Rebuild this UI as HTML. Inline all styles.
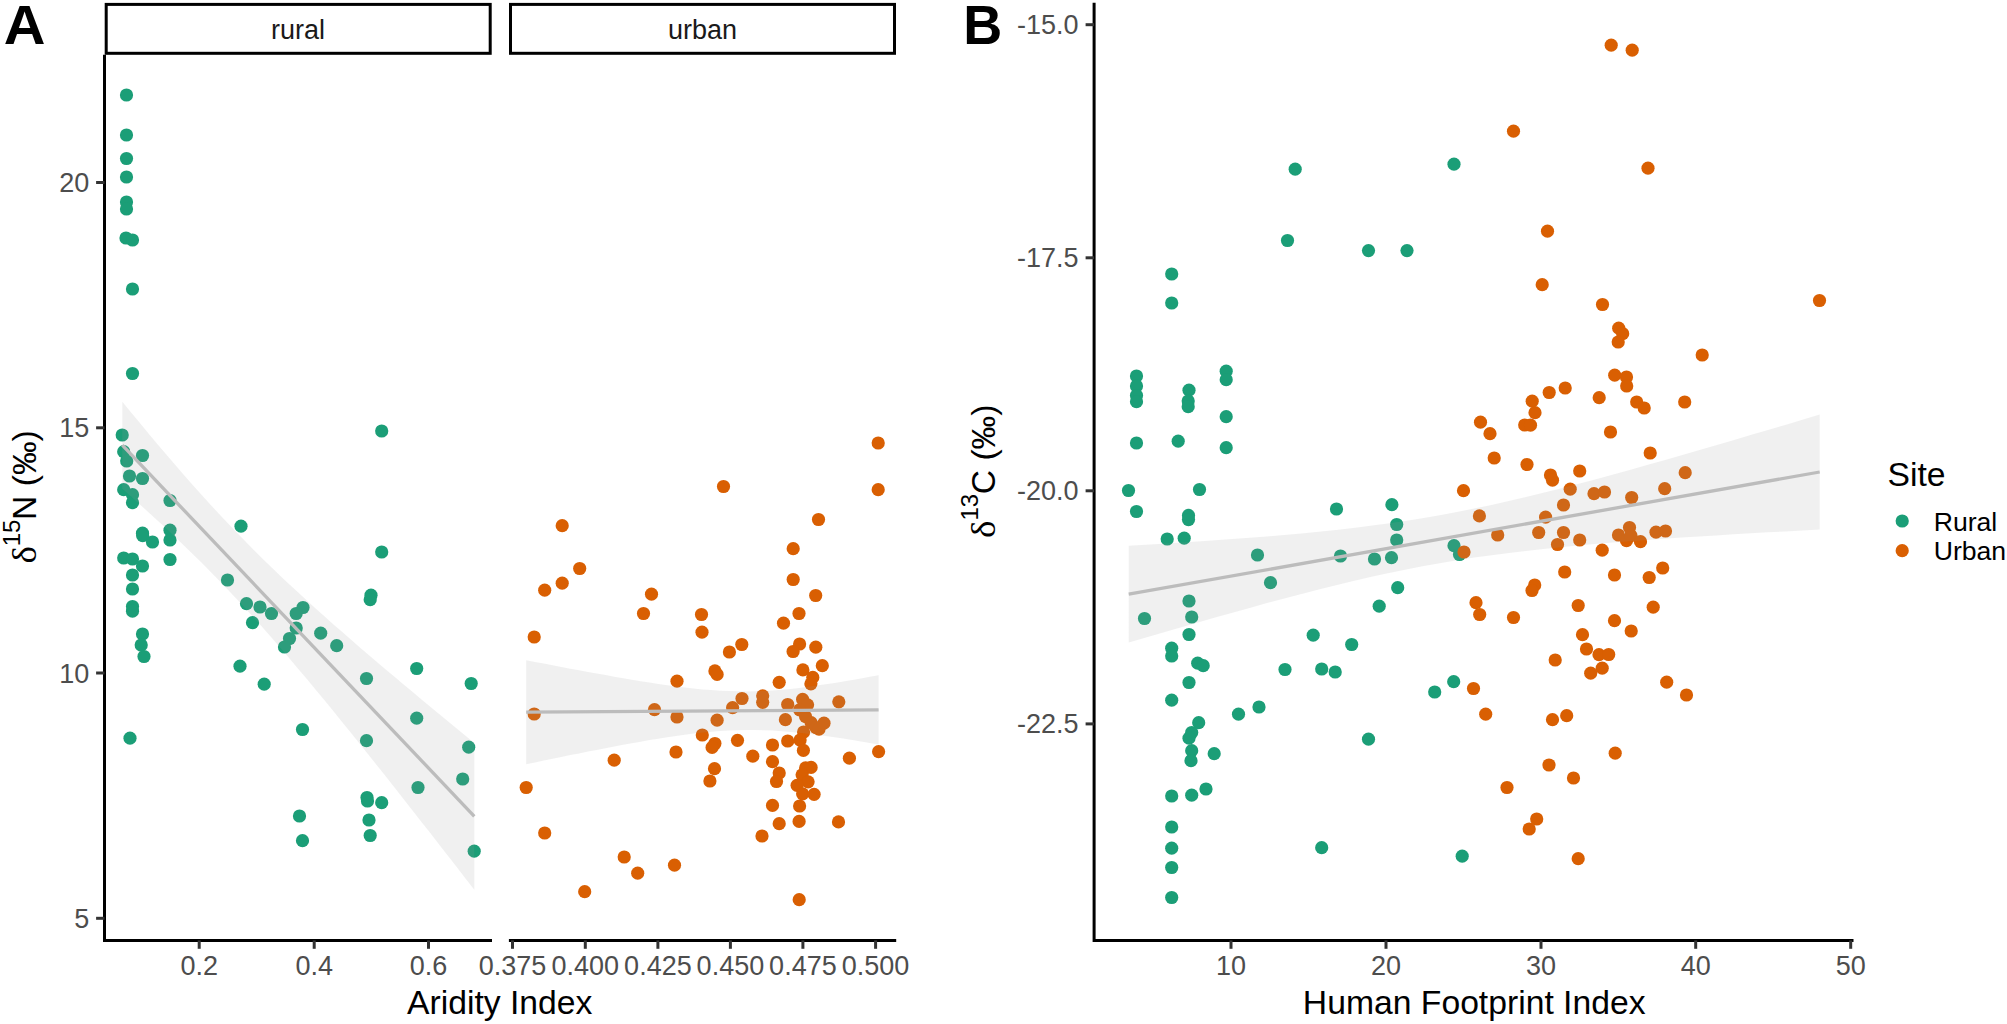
<!DOCTYPE html>
<html lang="en"><head><meta charset="utf-8"><title>Figure</title>
<style>
html,body{margin:0;padding:0;background:#fff;}
body{width:2007px;height:1024px;overflow:hidden;}
svg{display:block;}
text{font-family:"Liberation Sans",sans-serif;}
.tk{font-size:27px;fill:#4d4d4d;}
.ti{font-size:33.7px;fill:#000;}
.st{font-size:27px;fill:#1a1a1a;}
.lg{font-size:26.6px;fill:#000;}
.pl{font-size:55.7px;font-weight:bold;fill:#000;}
.ax{stroke:#000;stroke-width:3.0;fill:none;}
.tc{stroke:#333;stroke-width:3;fill:none;}
.rb{fill:#999;fill-opacity:0.15;stroke:none;}
.ln{stroke:#bcbcbc;stroke-width:3.3;fill:none;}
</style></head><body>
<svg width="2007" height="1024" viewBox="0 0 2007 1024">
<rect x="0" y="0" width="2007" height="1024" fill="#fff"/>
<text class="pl" transform="translate(3.8,43.9) scale(1.037,1)">A</text>
<text class="pl" transform="translate(963.3,43.9) scale(0.97,1)">B</text>
<rect class="ax" x="106.2" y="4.4" width="384" height="48.9" fill="#fff"/>
<rect class="ax" x="510.5" y="4.4" width="384" height="48.9" fill="#fff"/>
<text class="st" x="298" y="38.5" text-anchor="middle">rural</text>
<text class="st" x="702.5" y="38.5" text-anchor="middle">urban</text>
<g fill="#1B9E77">
<circle cx="126.5" cy="95.0" r="6.6"/>
<circle cx="126.5" cy="135.0" r="6.6"/>
<circle cx="126.5" cy="158.5" r="6.6"/>
<circle cx="126.5" cy="177.0" r="6.6"/>
<circle cx="126.5" cy="202.0" r="6.6"/>
<circle cx="126.5" cy="209.0" r="6.6"/>
<circle cx="126.0" cy="238.0" r="6.6"/>
<circle cx="132.5" cy="240.0" r="6.6"/>
<circle cx="132.5" cy="289.0" r="6.6"/>
<circle cx="132.5" cy="373.5" r="6.6"/>
<circle cx="381.7" cy="431.0" r="6.6"/>
<circle cx="122.2" cy="435.0" r="6.6"/>
<circle cx="123.7" cy="451.7" r="6.6"/>
<circle cx="142.5" cy="455.5" r="6.6"/>
<circle cx="126.7" cy="461.0" r="6.6"/>
<circle cx="129.5" cy="476.0" r="6.6"/>
<circle cx="142.5" cy="478.5" r="6.6"/>
<circle cx="123.7" cy="489.7" r="6.6"/>
<circle cx="132.5" cy="494.7" r="6.6"/>
<circle cx="132.5" cy="502.7" r="6.6"/>
<circle cx="170.0" cy="500.5" r="6.6"/>
<circle cx="142.5" cy="533.2" r="6.6"/>
<circle cx="142.7" cy="535.7" r="6.6"/>
<circle cx="152.5" cy="542.0" r="6.6"/>
<circle cx="170.0" cy="530.2" r="6.6"/>
<circle cx="170.0" cy="540.0" r="6.6"/>
<circle cx="170.0" cy="559.5" r="6.6"/>
<circle cx="241.0" cy="526.2" r="6.6"/>
<circle cx="123.7" cy="558.0" r="6.6"/>
<circle cx="132.5" cy="559.0" r="6.6"/>
<circle cx="142.5" cy="566.0" r="6.6"/>
<circle cx="132.5" cy="575.0" r="6.6"/>
<circle cx="132.5" cy="589.0" r="6.6"/>
<circle cx="132.5" cy="606.5" r="6.6"/>
<circle cx="132.5" cy="611.2" r="6.6"/>
<circle cx="142.5" cy="634.0" r="6.6"/>
<circle cx="141.2" cy="645.0" r="6.6"/>
<circle cx="144.0" cy="656.5" r="6.6"/>
<circle cx="381.7" cy="552.0" r="6.6"/>
<circle cx="227.5" cy="580.0" r="6.6"/>
<circle cx="371.0" cy="595.2" r="6.6"/>
<circle cx="370.2" cy="599.7" r="6.6"/>
<circle cx="246.5" cy="603.7" r="6.6"/>
<circle cx="260.0" cy="607.0" r="6.6"/>
<circle cx="271.5" cy="613.5" r="6.6"/>
<circle cx="303.0" cy="607.5" r="6.6"/>
<circle cx="296.2" cy="613.5" r="6.6"/>
<circle cx="252.5" cy="622.7" r="6.6"/>
<circle cx="296.2" cy="628.0" r="6.6"/>
<circle cx="320.7" cy="633.2" r="6.6"/>
<circle cx="289.5" cy="638.5" r="6.6"/>
<circle cx="284.5" cy="647.0" r="6.6"/>
<circle cx="336.7" cy="645.7" r="6.6"/>
<circle cx="240.0" cy="666.2" r="6.6"/>
<circle cx="264.2" cy="684.2" r="6.6"/>
<circle cx="416.7" cy="668.5" r="6.6"/>
<circle cx="366.5" cy="678.5" r="6.6"/>
<circle cx="471.2" cy="683.5" r="6.6"/>
<circle cx="416.7" cy="718.2" r="6.6"/>
<circle cx="302.5" cy="729.5" r="6.6"/>
<circle cx="130.0" cy="738.2" r="6.6"/>
<circle cx="366.5" cy="740.7" r="6.6"/>
<circle cx="468.7" cy="747.2" r="6.6"/>
<circle cx="299.5" cy="816.0" r="6.6"/>
<circle cx="302.5" cy="840.7" r="6.6"/>
<circle cx="367.0" cy="797.5" r="6.6"/>
<circle cx="367.5" cy="801.0" r="6.6"/>
<circle cx="381.7" cy="802.7" r="6.6"/>
<circle cx="369.0" cy="820.0" r="6.6"/>
<circle cx="370.2" cy="835.5" r="6.6"/>
<circle cx="418.0" cy="787.5" r="6.6"/>
<circle cx="462.7" cy="779.0" r="6.6"/>
<circle cx="474.2" cy="851.2" r="6.6"/>
</g>
<g fill="#D95F02">
<circle cx="878.2" cy="443.0" r="6.6"/>
<circle cx="723.5" cy="486.5" r="6.6"/>
<circle cx="878.2" cy="489.7" r="6.6"/>
<circle cx="562.2" cy="525.7" r="6.6"/>
<circle cx="818.5" cy="519.5" r="6.6"/>
<circle cx="793.2" cy="548.7" r="6.6"/>
<circle cx="579.7" cy="568.5" r="6.6"/>
<circle cx="562.2" cy="583.2" r="6.6"/>
<circle cx="544.7" cy="590.2" r="6.6"/>
<circle cx="793.2" cy="579.5" r="6.6"/>
<circle cx="651.5" cy="594.2" r="6.6"/>
<circle cx="815.7" cy="595.5" r="6.6"/>
<circle cx="643.5" cy="613.5" r="6.6"/>
<circle cx="701.5" cy="614.5" r="6.6"/>
<circle cx="799.0" cy="613.5" r="6.6"/>
<circle cx="783.5" cy="623.2" r="6.6"/>
<circle cx="702.0" cy="632.2" r="6.6"/>
<circle cx="534.2" cy="637.0" r="6.6"/>
<circle cx="741.8" cy="644.5" r="6.6"/>
<circle cx="729.4" cy="652.0" r="6.6"/>
<circle cx="799.6" cy="644.0" r="6.6"/>
<circle cx="793.1" cy="651.5" r="6.6"/>
<circle cx="815.8" cy="647.2" r="6.6"/>
<circle cx="822.3" cy="665.7" r="6.6"/>
<circle cx="802.9" cy="669.9" r="6.6"/>
<circle cx="714.9" cy="670.9" r="6.6"/>
<circle cx="717.1" cy="674.4" r="6.6"/>
<circle cx="812.8" cy="677.4" r="6.6"/>
<circle cx="810.9" cy="683.8" r="6.6"/>
<circle cx="779.2" cy="682.3" r="6.6"/>
<circle cx="677.0" cy="681.2" r="6.6"/>
<circle cx="742.0" cy="698.5" r="6.6"/>
<circle cx="762.7" cy="695.8" r="6.6"/>
<circle cx="762.7" cy="702.3" r="6.6"/>
<circle cx="732.6" cy="707.6" r="6.6"/>
<circle cx="787.7" cy="704.5" r="6.6"/>
<circle cx="802.6" cy="699.3" r="6.6"/>
<circle cx="807.6" cy="704.8" r="6.6"/>
<circle cx="838.8" cy="701.8" r="6.6"/>
<circle cx="654.5" cy="709.7" r="6.6"/>
<circle cx="534.2" cy="714.0" r="6.6"/>
<circle cx="677.0" cy="717.0" r="6.6"/>
<circle cx="717.1" cy="720.2" r="6.6"/>
<circle cx="785.4" cy="719.7" r="6.6"/>
<circle cx="799.6" cy="709.8" r="6.6"/>
<circle cx="805.6" cy="716.7" r="6.6"/>
<circle cx="811.1" cy="722.7" r="6.6"/>
<circle cx="816.0" cy="727.7" r="6.6"/>
<circle cx="819.0" cy="729.2" r="6.6"/>
<circle cx="824.0" cy="723.2" r="6.6"/>
<circle cx="803.6" cy="732.0" r="6.6"/>
<circle cx="702.3" cy="735.0" r="6.6"/>
<circle cx="714.9" cy="743.5" r="6.6"/>
<circle cx="712.1" cy="747.4" r="6.6"/>
<circle cx="737.5" cy="740.3" r="6.6"/>
<circle cx="772.5" cy="745.0" r="6.6"/>
<circle cx="787.7" cy="741.0" r="6.6"/>
<circle cx="800.1" cy="740.0" r="6.6"/>
<circle cx="803.4" cy="750.4" r="6.6"/>
<circle cx="752.8" cy="756.2" r="6.6"/>
<circle cx="772.5" cy="761.7" r="6.6"/>
<circle cx="849.4" cy="758.2" r="6.6"/>
<circle cx="878.6" cy="751.7" r="6.6"/>
<circle cx="714.5" cy="768.7" r="6.6"/>
<circle cx="709.9" cy="781.0" r="6.6"/>
<circle cx="779.2" cy="773.0" r="6.6"/>
<circle cx="776.5" cy="781.5" r="6.6"/>
<circle cx="805.6" cy="767.9" r="6.6"/>
<circle cx="811.1" cy="767.4" r="6.6"/>
<circle cx="802.1" cy="774.8" r="6.6"/>
<circle cx="808.1" cy="781.8" r="6.6"/>
<circle cx="797.1" cy="785.3" r="6.6"/>
<circle cx="802.6" cy="793.8" r="6.6"/>
<circle cx="814.1" cy="794.3" r="6.6"/>
<circle cx="772.5" cy="805.4" r="6.6"/>
<circle cx="799.6" cy="806.0" r="6.6"/>
<circle cx="779.2" cy="823.7" r="6.6"/>
<circle cx="799.1" cy="821.4" r="6.6"/>
<circle cx="838.5" cy="821.9" r="6.6"/>
<circle cx="762.0" cy="836.0" r="6.6"/>
<circle cx="676.0" cy="752.0" r="6.6"/>
<circle cx="614.2" cy="760.2" r="6.6"/>
<circle cx="526.2" cy="787.5" r="6.6"/>
<circle cx="544.7" cy="833.0" r="6.6"/>
<circle cx="624.2" cy="857.0" r="6.6"/>
<circle cx="637.7" cy="873.2" r="6.6"/>
<circle cx="674.5" cy="865.2" r="6.6"/>
<circle cx="584.7" cy="891.7" r="6.6"/>
<circle cx="799.2" cy="899.7" r="6.6"/>
</g>
<polygon class="rb" points="122.3,401.7 131.1,412.4 139.9,423.1 148.7,433.7 157.5,444.2 166.3,454.6 175.1,464.8 183.9,474.9 192.7,484.9 201.5,494.8 210.3,504.4 219.1,514.0 227.9,523.3 236.7,532.5 245.5,541.6 254.3,550.4 263.1,559.2 271.9,567.7 280.7,576.2 289.5,584.5 298.3,592.6 307.1,600.7 315.9,608.7 324.7,616.6 333.5,624.4 342.3,632.1 351.1,639.8 359.9,647.4 368.7,654.9 377.5,662.4 386.3,669.9 395.1,677.3 403.9,684.7 412.7,692.1 421.5,699.4 430.3,706.7 439.1,714.0 447.9,721.2 456.7,728.4 465.5,735.7 474.3,742.9 474.3,889.7 465.5,878.4 456.7,867.0 447.9,855.7 439.1,844.4 430.3,833.1 421.5,821.9 412.7,810.7 403.9,799.5 395.1,788.3 386.3,777.1 377.5,766.1 368.7,755.0 359.9,744.0 351.1,733.0 342.3,722.2 333.5,711.3 324.7,700.6 315.9,689.9 307.1,679.3 298.3,668.9 289.5,658.5 280.7,648.2 271.9,638.1 263.1,628.1 254.3,618.3 245.5,608.6 236.7,599.1 227.9,589.7 219.1,580.5 210.3,571.5 201.5,562.6 192.7,553.9 183.9,545.4 175.1,536.9 166.3,528.6 157.5,520.4 148.7,512.4 139.9,504.4 131.1,496.5 122.3,488.7"/>
<line class="ln" x1="122.3" y1="445.2" x2="474.3" y2="816.3"/>
<polygon class="rb" points="526.2,660.2 535.0,661.9 543.8,663.6 552.6,665.3 561.4,667.0 570.2,668.7 579.1,670.3 587.9,671.9 596.7,673.6 605.5,675.1 614.3,676.7 623.1,678.2 631.9,679.7 640.7,681.2 649.5,682.6 658.4,683.9 667.2,685.2 676.0,686.4 684.8,687.5 693.6,688.5 702.4,689.4 711.2,690.1 720.0,690.7 728.8,691.1 737.6,691.3 746.5,691.4 755.3,691.3 764.1,690.9 772.9,690.4 781.7,689.7 790.5,688.9 799.3,687.9 808.1,686.8 816.9,685.6 825.7,684.3 834.6,682.9 843.4,681.5 852.2,680.0 861.0,678.4 869.8,676.8 878.6,675.2 878.6,744.4 869.8,742.9 861.0,741.4 852.2,740.0 843.4,738.6 834.6,737.3 825.7,736.0 816.9,734.8 808.1,733.7 799.3,732.8 790.5,731.9 781.7,731.2 772.9,730.6 764.1,730.2 755.3,730.0 746.5,730.0 737.6,730.2 728.8,730.5 720.0,731.1 711.2,731.8 702.4,732.6 693.6,733.6 684.8,734.8 676.0,736.0 667.2,737.3 658.4,738.7 649.5,740.1 640.7,741.7 631.9,743.2 623.1,744.8 614.3,746.5 605.5,748.2 596.7,749.9 587.9,751.6 579.1,753.4 570.2,755.1 561.4,756.9 552.6,758.7 543.8,760.6 535.0,762.4 526.2,764.2"/>
<line class="ln" x1="526.2" y1="712.2" x2="878.6" y2="709.8"/>
<g fill="#1B9E77">
<circle cx="1295.2" cy="169.2" r="6.6"/>
<circle cx="1454.0" cy="164.2" r="6.6"/>
<circle cx="1287.5" cy="240.5" r="6.6"/>
<circle cx="1368.5" cy="250.6" r="6.6"/>
<circle cx="1407.0" cy="250.6" r="6.6"/>
<circle cx="1171.7" cy="274.0" r="6.6"/>
<circle cx="1171.7" cy="303.0" r="6.6"/>
<circle cx="1136.5" cy="376.0" r="6.6"/>
<circle cx="1136.5" cy="386.0" r="6.6"/>
<circle cx="1136.5" cy="395.5" r="6.6"/>
<circle cx="1136.5" cy="401.7" r="6.6"/>
<circle cx="1226.2" cy="371.2" r="6.6"/>
<circle cx="1226.2" cy="379.7" r="6.6"/>
<circle cx="1189.0" cy="390.2" r="6.6"/>
<circle cx="1188.2" cy="401.0" r="6.6"/>
<circle cx="1188.2" cy="406.7" r="6.6"/>
<circle cx="1226.2" cy="416.7" r="6.6"/>
<circle cx="1136.5" cy="443.0" r="6.6"/>
<circle cx="1178.2" cy="441.2" r="6.6"/>
<circle cx="1226.2" cy="447.7" r="6.6"/>
<circle cx="1128.5" cy="490.5" r="6.6"/>
<circle cx="1199.5" cy="489.5" r="6.6"/>
<circle cx="1136.5" cy="511.5" r="6.6"/>
<circle cx="1188.5" cy="515.4" r="6.6"/>
<circle cx="1188.5" cy="519.6" r="6.6"/>
<circle cx="1336.5" cy="509.0" r="6.6"/>
<circle cx="1391.9" cy="504.7" r="6.6"/>
<circle cx="1167.2" cy="539.0" r="6.6"/>
<circle cx="1184.2" cy="538.2" r="6.6"/>
<circle cx="1396.7" cy="524.5" r="6.6"/>
<circle cx="1396.7" cy="540.0" r="6.6"/>
<circle cx="1257.5" cy="555.0" r="6.6"/>
<circle cx="1340.5" cy="556.0" r="6.6"/>
<circle cx="1374.5" cy="559.0" r="6.6"/>
<circle cx="1391.5" cy="557.7" r="6.6"/>
<circle cx="1454.0" cy="545.7" r="6.6"/>
<circle cx="1459.5" cy="554.5" r="6.6"/>
<circle cx="1270.5" cy="582.7" r="6.6"/>
<circle cx="1397.7" cy="587.7" r="6.6"/>
<circle cx="1189.0" cy="601.0" r="6.6"/>
<circle cx="1191.7" cy="617.0" r="6.6"/>
<circle cx="1144.5" cy="618.5" r="6.6"/>
<circle cx="1379.2" cy="606.2" r="6.6"/>
<circle cx="1189.0" cy="634.5" r="6.6"/>
<circle cx="1313.2" cy="635.2" r="6.6"/>
<circle cx="1351.7" cy="644.5" r="6.6"/>
<circle cx="1171.7" cy="648.2" r="6.6"/>
<circle cx="1171.7" cy="656.0" r="6.6"/>
<circle cx="1197.7" cy="663.2" r="6.6"/>
<circle cx="1203.2" cy="665.7" r="6.6"/>
<circle cx="1285.0" cy="669.5" r="6.6"/>
<circle cx="1321.7" cy="669.0" r="6.6"/>
<circle cx="1335.2" cy="672.0" r="6.6"/>
<circle cx="1189.0" cy="682.5" r="6.6"/>
<circle cx="1453.7" cy="681.7" r="6.6"/>
<circle cx="1434.7" cy="692.0" r="6.6"/>
<circle cx="1171.7" cy="700.2" r="6.6"/>
<circle cx="1259.0" cy="707.0" r="6.6"/>
<circle cx="1238.5" cy="714.2" r="6.6"/>
<circle cx="1198.7" cy="722.7" r="6.6"/>
<circle cx="1191.7" cy="732.5" r="6.6"/>
<circle cx="1189.0" cy="738.2" r="6.6"/>
<circle cx="1368.5" cy="739.2" r="6.6"/>
<circle cx="1191.7" cy="750.7" r="6.6"/>
<circle cx="1214.2" cy="753.7" r="6.6"/>
<circle cx="1191.0" cy="760.7" r="6.6"/>
<circle cx="1171.7" cy="796.0" r="6.6"/>
<circle cx="1191.7" cy="795.2" r="6.6"/>
<circle cx="1206.0" cy="789.0" r="6.6"/>
<circle cx="1171.7" cy="827.0" r="6.6"/>
<circle cx="1171.7" cy="848.2" r="6.6"/>
<circle cx="1171.7" cy="867.5" r="6.6"/>
<circle cx="1171.7" cy="897.5" r="6.6"/>
<circle cx="1321.7" cy="847.7" r="6.6"/>
<circle cx="1462.2" cy="856.2" r="6.6"/>
</g>
<g fill="#D95F02">
<circle cx="1611.2" cy="45.2" r="6.6"/>
<circle cx="1632.2" cy="50.2" r="6.6"/>
<circle cx="1513.5" cy="131.2" r="6.6"/>
<circle cx="1648.0" cy="168.2" r="6.6"/>
<circle cx="1547.5" cy="231.2" r="6.6"/>
<circle cx="1480.5" cy="422.2" r="6.6"/>
<circle cx="1490.0" cy="433.7" r="6.6"/>
<circle cx="1494.2" cy="458.0" r="6.6"/>
<circle cx="1463.5" cy="490.7" r="6.6"/>
<circle cx="1479.4" cy="515.9" r="6.6"/>
<circle cx="1542.2" cy="284.7" r="6.6"/>
<circle cx="1602.5" cy="304.5" r="6.6"/>
<circle cx="1819.5" cy="300.5" r="6.6"/>
<circle cx="1618.7" cy="328.2" r="6.6"/>
<circle cx="1622.7" cy="333.7" r="6.6"/>
<circle cx="1618.2" cy="342.0" r="6.6"/>
<circle cx="1702.2" cy="355.0" r="6.6"/>
<circle cx="1614.7" cy="375.2" r="6.6"/>
<circle cx="1626.5" cy="377.0" r="6.6"/>
<circle cx="1626.7" cy="386.0" r="6.6"/>
<circle cx="1565.2" cy="388.0" r="6.6"/>
<circle cx="1549.2" cy="392.5" r="6.6"/>
<circle cx="1599.2" cy="397.7" r="6.6"/>
<circle cx="1532.2" cy="401.2" r="6.6"/>
<circle cx="1636.7" cy="402.0" r="6.6"/>
<circle cx="1644.2" cy="408.0" r="6.6"/>
<circle cx="1684.7" cy="402.0" r="6.6"/>
<circle cx="1535.0" cy="412.7" r="6.6"/>
<circle cx="1524.7" cy="425.0" r="6.6"/>
<circle cx="1530.5" cy="425.2" r="6.6"/>
<circle cx="1610.5" cy="432.0" r="6.6"/>
<circle cx="1650.2" cy="453.0" r="6.6"/>
<circle cx="1527.0" cy="464.5" r="6.6"/>
<circle cx="1579.7" cy="471.0" r="6.6"/>
<circle cx="1550.5" cy="475.0" r="6.6"/>
<circle cx="1552.5" cy="480.2" r="6.6"/>
<circle cx="1685.2" cy="472.7" r="6.6"/>
<circle cx="1570.2" cy="489.2" r="6.6"/>
<circle cx="1594.0" cy="493.7" r="6.6"/>
<circle cx="1604.5" cy="492.0" r="6.6"/>
<circle cx="1664.7" cy="488.7" r="6.6"/>
<circle cx="1631.7" cy="497.5" r="6.6"/>
<circle cx="1563.5" cy="505.0" r="6.6"/>
<circle cx="1545.6" cy="517.2" r="6.6"/>
<circle cx="1497.7" cy="535.0" r="6.6"/>
<circle cx="1464.0" cy="552.0" r="6.6"/>
<circle cx="1476.0" cy="602.7" r="6.6"/>
<circle cx="1479.7" cy="614.5" r="6.6"/>
<circle cx="1473.5" cy="688.5" r="6.6"/>
<circle cx="1485.7" cy="714.2" r="6.6"/>
<circle cx="1538.7" cy="532.5" r="6.6"/>
<circle cx="1563.5" cy="532.5" r="6.6"/>
<circle cx="1557.5" cy="544.5" r="6.6"/>
<circle cx="1579.7" cy="540.0" r="6.6"/>
<circle cx="1602.2" cy="550.2" r="6.6"/>
<circle cx="1618.5" cy="535.0" r="6.6"/>
<circle cx="1629.5" cy="527.5" r="6.6"/>
<circle cx="1626.5" cy="540.7" r="6.6"/>
<circle cx="1631.0" cy="535.7" r="6.6"/>
<circle cx="1640.5" cy="541.7" r="6.6"/>
<circle cx="1656.0" cy="532.2" r="6.6"/>
<circle cx="1665.5" cy="531.0" r="6.6"/>
<circle cx="1564.7" cy="572.0" r="6.6"/>
<circle cx="1614.5" cy="575.0" r="6.6"/>
<circle cx="1649.2" cy="577.5" r="6.6"/>
<circle cx="1662.7" cy="568.0" r="6.6"/>
<circle cx="1534.7" cy="585.0" r="6.6"/>
<circle cx="1532.0" cy="590.5" r="6.6"/>
<circle cx="1578.2" cy="605.5" r="6.6"/>
<circle cx="1653.2" cy="607.2" r="6.6"/>
<circle cx="1513.5" cy="617.5" r="6.6"/>
<circle cx="1614.5" cy="620.7" r="6.6"/>
<circle cx="1631.2" cy="631.0" r="6.6"/>
<circle cx="1582.5" cy="634.7" r="6.6"/>
<circle cx="1586.5" cy="649.0" r="6.6"/>
<circle cx="1599.0" cy="654.7" r="6.6"/>
<circle cx="1608.7" cy="654.5" r="6.6"/>
<circle cx="1555.2" cy="660.0" r="6.6"/>
<circle cx="1602.2" cy="668.2" r="6.6"/>
<circle cx="1590.7" cy="673.2" r="6.6"/>
<circle cx="1666.7" cy="682.2" r="6.6"/>
<circle cx="1686.5" cy="695.0" r="6.6"/>
<circle cx="1566.7" cy="715.7" r="6.6"/>
<circle cx="1552.5" cy="719.7" r="6.6"/>
<circle cx="1615.2" cy="753.2" r="6.6"/>
<circle cx="1549.0" cy="765.0" r="6.6"/>
<circle cx="1507.0" cy="787.5" r="6.6"/>
<circle cx="1573.5" cy="778.0" r="6.6"/>
<circle cx="1536.7" cy="819.0" r="6.6"/>
<circle cx="1529.2" cy="829.0" r="6.6"/>
<circle cx="1578.2" cy="858.7" r="6.6"/>
</g>
<polygon class="rb" points="1128.7,545.8 1146.0,544.8 1163.2,543.7 1180.5,542.6 1197.8,541.5 1215.1,540.3 1232.4,539.1 1249.6,537.8 1266.9,536.4 1284.2,534.9 1301.5,533.4 1318.7,531.7 1336.0,529.9 1353.3,527.9 1370.5,525.8 1387.8,523.5 1405.1,520.9 1422.4,518.2 1439.7,515.2 1456.9,512.0 1474.2,508.6 1491.5,504.9 1508.8,501.1 1526.0,497.0 1543.3,492.8 1560.6,488.5 1577.8,484.0 1595.1,479.4 1612.4,474.7 1629.7,470.0 1647.0,465.1 1664.2,460.3 1681.5,455.3 1698.8,450.3 1716.1,445.3 1733.3,440.2 1750.6,435.1 1767.9,430.0 1785.2,424.9 1802.4,419.7 1819.7,414.5 1819.7,529.5 1802.4,530.4 1785.2,531.4 1767.9,532.3 1750.6,533.3 1733.3,534.3 1716.1,535.4 1698.8,536.5 1681.5,537.6 1664.2,538.7 1647.0,540.0 1629.7,541.2 1612.4,542.6 1595.1,544.0 1577.8,545.5 1560.6,547.2 1543.3,548.9 1526.0,550.9 1508.8,552.9 1491.5,555.2 1474.2,557.6 1456.9,560.3 1439.7,563.2 1422.4,566.3 1405.1,569.7 1387.8,573.3 1370.5,577.1 1353.3,581.0 1336.0,585.2 1318.7,589.5 1301.5,593.9 1284.2,598.5 1266.9,603.1 1249.6,607.9 1232.4,612.7 1215.1,617.5 1197.8,622.5 1180.5,627.4 1163.2,632.5 1146.0,637.5 1128.7,642.6"/>
<line class="ln" x1="1128.7" y1="594.2" x2="1819.7" y2="472.0"/>
<path class="ax" d="M104.5,54.8 V940.4 H492"/>
<path class="ax" d="M508.9,940.4 H896.2"/>
<line class="tc" x1="96.1" y1="182.5" x2="104.5" y2="182.5"/>
<text class="tk" x="89.4" y="192.0" text-anchor="end">20</text>
<line class="tc" x1="96.1" y1="427.8" x2="104.5" y2="427.8"/>
<text class="tk" x="89.4" y="437.3" text-anchor="end">15</text>
<line class="tc" x1="96.1" y1="673.0" x2="104.5" y2="673.0"/>
<text class="tk" x="89.4" y="682.5" text-anchor="end">10</text>
<line class="tc" x1="96.1" y1="918.3" x2="104.5" y2="918.3"/>
<text class="tk" x="89.4" y="927.8" text-anchor="end">5</text>
<line class="tc" x1="199.2" y1="940.4" x2="199.2" y2="948.8"/>
<text class="tk" x="199.2" y="975.1" text-anchor="middle">0.2</text>
<line class="tc" x1="314.2" y1="940.4" x2="314.2" y2="948.8"/>
<text class="tk" x="314.2" y="975.1" text-anchor="middle">0.4</text>
<line class="tc" x1="428.5" y1="940.4" x2="428.5" y2="948.8"/>
<text class="tk" x="428.5" y="975.1" text-anchor="middle">0.6</text>
<line class="tc" x1="512.5" y1="940.4" x2="512.5" y2="948.8"/>
<text class="tk" x="512.5" y="975.1" text-anchor="middle">0.375</text>
<line class="tc" x1="585.3" y1="940.4" x2="585.3" y2="948.8"/>
<text class="tk" x="585.3" y="975.1" text-anchor="middle">0.400</text>
<line class="tc" x1="657.9" y1="940.4" x2="657.9" y2="948.8"/>
<text class="tk" x="657.9" y="975.1" text-anchor="middle">0.425</text>
<line class="tc" x1="730.4" y1="940.4" x2="730.4" y2="948.8"/>
<text class="tk" x="730.4" y="975.1" text-anchor="middle">0.450</text>
<line class="tc" x1="802.9" y1="940.4" x2="802.9" y2="948.8"/>
<text class="tk" x="802.9" y="975.1" text-anchor="middle">0.475</text>
<line class="tc" x1="875.6" y1="940.4" x2="875.6" y2="948.8"/>
<text class="tk" x="875.6" y="975.1" text-anchor="middle">0.500</text>
<text class="ti" x="499.7" y="1013.9" text-anchor="middle">Aridity Index</text>
<g transform="translate(36.2,563.6) rotate(-90)">
<text class="ti" transform="scale(1.08,1)" x="0" y="0" style="font-family:'Liberation Serif',serif;font-size:34.3px">δ</text>
<text class="ti" x="17.3" y="-16.6" style="font-size:24px">15</text>
<text class="ti" x="43.6" y="0">N (‰)</text>
</g>
<path class="ax" d="M1094.1,2.7 V940.4 H1853.5"/>
<line class="tc" x1="1085.6" y1="24.7" x2="1094.1" y2="24.7"/>
<text class="tk" x="1078.5" y="34.2" text-anchor="end">-15.0</text>
<line class="tc" x1="1085.6" y1="257.8" x2="1094.1" y2="257.8"/>
<text class="tk" x="1078.5" y="267.3" text-anchor="end">-17.5</text>
<line class="tc" x1="1085.6" y1="490.8" x2="1094.1" y2="490.8"/>
<text class="tk" x="1078.5" y="500.3" text-anchor="end">-20.0</text>
<line class="tc" x1="1085.6" y1="723.9" x2="1094.1" y2="723.9"/>
<text class="tk" x="1078.5" y="733.4" text-anchor="end">-22.5</text>
<line class="tc" x1="1231" y1="940.4" x2="1231" y2="948.8"/>
<text class="tk" x="1231" y="975.1" text-anchor="middle">10</text>
<line class="tc" x1="1386" y1="940.4" x2="1386" y2="948.8"/>
<text class="tk" x="1386" y="975.1" text-anchor="middle">20</text>
<line class="tc" x1="1541" y1="940.4" x2="1541" y2="948.8"/>
<text class="tk" x="1541" y="975.1" text-anchor="middle">30</text>
<line class="tc" x1="1695.7" y1="940.4" x2="1695.7" y2="948.8"/>
<text class="tk" x="1695.7" y="975.1" text-anchor="middle">40</text>
<line class="tc" x1="1850.7" y1="940.4" x2="1850.7" y2="948.8"/>
<text class="tk" x="1850.7" y="975.1" text-anchor="middle">50</text>
<text class="ti" x="1474.2" y="1013.9" text-anchor="middle">Human Footprint Index</text>
<g transform="translate(994.6,537.9) rotate(-90)">
<text class="ti" transform="scale(1.08,1)" x="0" y="0" style="font-family:'Liberation Serif',serif;font-size:34.3px">δ</text>
<text class="ti" x="17.3" y="-16.6" style="font-size:24px">13</text>
<text class="ti" x="43.6" y="0">C (‰)</text>
</g>
<text class="ti" x="1887.5" y="485.7">Site</text>
<circle cx="1902.2" cy="521" r="6.6" fill="#1B9E77"/>
<circle cx="1902.2" cy="550.7" r="6.6" fill="#D95F02"/>
<text class="lg" x="1933.7" y="530.9">Rural</text>
<text class="lg" x="1933.7" y="559.7">Urban</text>
</svg>
</body></html>
